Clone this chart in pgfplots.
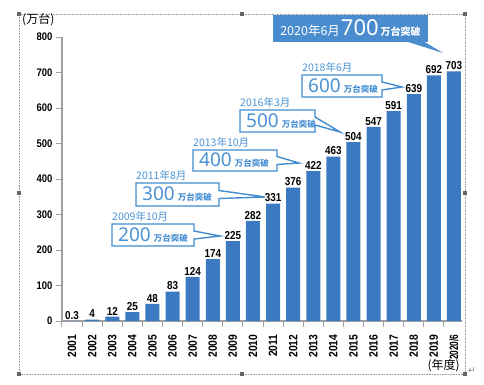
\documentclass[border=0pt]{standalone}
\usepackage{graphicx}
\usepackage{pgfplots}
\pgfplotsset{compat=1.18}
\usepackage{fontspec}
\setmainfont{Liberation Sans}
\newfontfamily\cjk{Noto Sans CJK JP}
\newfontfamily\numf[FakeStretch=0.86]{Liberation Sans}
\newfontfamily\nsans{Noto Sans}
\newfontfamily\dvs{DejaVu Sans}
\definecolor{barblue}{RGB}{59,121,193}
\definecolor{lineblue}{RGB}{66,140,208}
\definecolor{txtblue}{RGB}{74,146,212}
\definecolor{fillblue}{RGB}{74,141,206}
\definecolor{axgray}{RGB}{160,160,160}
\begin{document}
\begin{tikzpicture}
\path[use as bounding box] (-62pt,-63pt) rectangle (422pt,321pt);
\begin{axis}[
  at={(0pt,0pt)}, anchor=south west,
  scale only axis, width=400pt, height=284pt,
  xmin=-0.5, xmax=19.4, ymin=0, ymax=800,
  clip=false,
  axis x line*=bottom, axis y line*=left,
  axis line style={-, draw=axgray, line width=1.3pt},
  /pgf/number format/assume math mode=true,
  ytick={0,100,...,800},
  yticklabel style={font=\numf\bfseries\fontsize{11}{11}\selectfont},
  xtick={0,...,19},
  xticklabels={2001,2002,2003,2004,2005,2006,2007,2008,2009,2010,2011,2012,2013,2014,2015,2016,2017,2018,2019,\scalebox{0.8}[1]{2020/6}},
  xticklabel style={rotate=90, anchor=east, font=\numf\bfseries\fontsize{12}{12}\selectfont},
  xticklabel shift=4pt,
  tick align=outside,
  major tick length=6pt,
  minor tick length=6pt,
  tick style={draw=axgray, line width=1pt},
  major x tick style={draw=none},
  minor xtick={-0.5,0.5,...,18.5},
  ybar, bar width=14pt,
  nodes near coords,
  nodes near coords style={font=\numf\bfseries\fontsize{11.5}{11.5}\selectfont, text=black, inner sep=1.5pt},
]
\addplot[fill=barblue, draw=none] coordinates {(0,0.3)(1,4)(2,12)(3,25)(4,48)(5,83)(6,124)(7,174)(8,225)(9,282)(10,331)(11,376)(12,422)(13,463)(14,504)(15,547)(16,591)(17,639)(18,692)(19,703)};
\end{axis}
\begin{scope}[x=1pt,y=1pt]
% frame
\draw[gray!80, densely dotted, line width=0.6pt] (-43,-53) rectangle (403,307);
\foreach \p in {(-43,-53),(403,-53),(-43,307),(403,307),(180,307),(180,-53),(-43,128),(403,128)}
  \fill[gray!80!black] \p ++(-2,-2) rectangle ++(4,4);
\node[anchor=west, inner sep=0] at (-40,301) {\cjk\fontsize{12}{12}\selectfont (万台)};
\node[anchor=east, inner sep=0] at (398,-45) {\cjk\fontsize{12}{12}\selectfont (年度)};
\node[anchor=west, inner sep=0, text=gray] at (406,-50) {\dvs\fontsize{9}{9}\selectfont ↵};
% callouts
\newcommand\callout[8]{% x1,x2,y1,y2,tipx,tipy,date,number
  \draw[lineblue, line width=1.4pt, fill=white, line join=miter] (#1,#3) -- (#1,#4) -- (#2,#4) -- (#2,{(#3+#4)/2+4}) -- (#5,#6) -- (#2,{(#3+#4)/2-4}) -- (#2,#3) -- cycle;
  \node[anchor=south west, inner sep=0, text=txtblue] at (#1,{#4+2.5}) {\cjk\fontsize{10.5}{11}\selectfont #7};
  \node[anchor=west, inner sep=0, text=txtblue] at ({#1+6},{(#3+#4)/2}) {\nsans\fontsize{19}{19}\selectfont #8\hspace{3pt}{\cjk\bfseries\fontsize{8.5}{9}\selectfont 万台突破}};
}
\callout{50}{132}{75}{97}{158}{85}{2009年10月}{200}
\callout{74}{157}{115}{138}{203}{124}{2011年8月}{300}
\callout{131}{215}{150}{171}{237}{158}{2013年10月}{400}
\callout{178}{253}{189}{211}{278}{189}{2016年3月}{500}
\callout{240}{320}{224}{246}{340}{234}{2018年6月}{600}
% 700 box
\fill[fillblue] (211,279) rectangle (366,306);
\fill[fillblue] (343,280) -- (381,268) -- (361,280) -- cycle;
\node[text=white, inner sep=0] at (288.5,292.5) {{\cjk\fontsize{12.5}{13}\selectfont 2020年6月}\hspace{1pt}{\nsans\bfseries\fontsize{22}{22}\selectfont 700}\hspace{2pt}{\cjk\bfseries\fontsize{10}{10}\selectfont 万台突破}};
\end{scope}
\end{tikzpicture}
\end{document}
